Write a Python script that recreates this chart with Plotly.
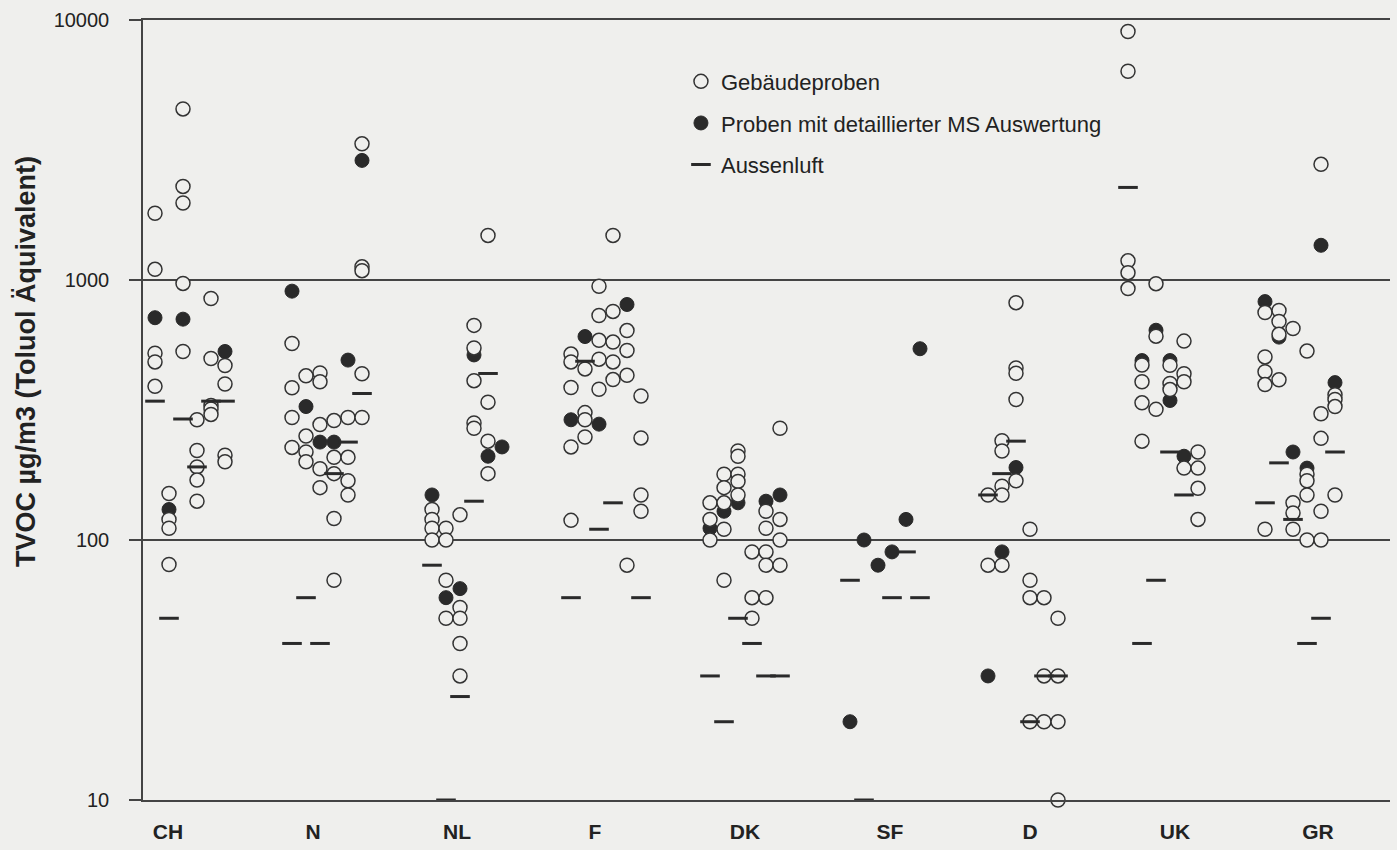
import plotly.graph_objects as go

# ---------------- data (column slot within country group, TVOC value) ----------------
COUNTRIES = ["CH", "N", "NL", "F", "DK", "SF", "D", "UK", "GR"]
Y_TICKS = [10, 100, 1000, 10000]
Y_TICKTEXT = ["10", "100", "1000", "10000"]

# Gebäudeproben (open circles)
CH_geb = [(0, 1806), (0, 1099), (0, 523), (0, 484), (0, 390),
          (1, 151), (1, 120), (1, 111), (1, 80.5),
          (2, 4550), (2, 2290), (2, 1977), (2, 970), (2, 531),
          (3, 290), (3, 221), (3, 191), (3, 170), (3, 141),
          (4, 849), (4, 499), (4, 329), (4, 319), (4, 304),
          (5, 469), (5, 398), (5, 212), (5, 200)]
N_geb = [(0, 570), (0, 385), (0, 296), (0, 227),
         (1, 428), (1, 251), (1, 218), (1, 200),
         (2, 439), (2, 406), (2, 278), (2, 188), (2, 159),
         (3, 288), (3, 208), (3, 180), (3, 121), (3, 70),
         (4, 296), (4, 208), (4, 169), (4, 149),
         (5, 3340), (5, 1124), (5, 1086), (5, 436), (5, 296)]
NL_geb = [(0, 131), (0, 120), (0, 111), (0, 100),
          (1, 111), (1, 100), (1, 70), (1, 50),
          (2, 125), (2, 55), (2, 50), (2, 40), (2, 30),
          (3, 669), (3, 548), (3, 410), (3, 282), (3, 269),
          (4, 1484), (4, 339), (4, 240), (4, 180)]
F_geb = [(0, 519), (0, 484), (0, 386), (0, 228), (0, 119),
         (1, 455), (1, 309), (1, 290), (1, 249),
         (2, 946), (2, 730), (2, 586), (2, 496), (2, 380),
         (3, 1484), (3, 757), (3, 577), (3, 484), (3, 414),
         (4, 639), (4, 536), (4, 430), (4, 80),
         (5, 358), (5, 247), (5, 149), (5, 129)]
DK_geb = [(0, 139), (0, 120), (0, 100),
          (1, 179), (1, 159), (1, 139), (1, 110), (1, 70),
          (2, 220), (2, 210), (2, 179), (2, 168), (2, 149),
          (3, 90), (3, 60), (3, 50),
          (4, 129), (4, 111), (4, 90), (4, 80), (4, 60),
          (5, 269), (5, 120), (5, 100), (5, 80)]
SF_geb = []
D_geb = [(0, 149), (0, 80),
         (1, 241), (1, 220), (1, 161), (1, 149), (1, 80),
         (2, 818), (2, 459), (2, 438), (2, 347), (2, 169),
         (3, 110), (3, 70), (3, 60), (3, 20),
         (4, 60), (4, 30), (4, 20),
         (5, 50), (5, 30), (5, 20), (5, 10)]
UK_geb = [(0, 9030), (0, 6350), (0, 1185), (0, 1067), (0, 927),
          (1, 471), (1, 406), (1, 337), (1, 240),
          (2, 968), (2, 608), (2, 318),
          (3, 470), (3, 400), (3, 379),
          (4, 582), (4, 436), (4, 406), (4, 189),
          (5, 218), (5, 189), (5, 158), (5, 120)]
GR_geb = [(0, 750), (0, 506), (0, 444), (0, 396), (0, 110),
          (1, 764), (1, 693), (1, 618), (1, 413),
          (2, 651), (2, 139), (2, 127), (2, 110),
          (3, 533), (3, 179), (3, 169), (3, 149), (3, 100),
          (4, 2785), (4, 306), (4, 246), (4, 129), (4, 100),
          (5, 362), (5, 347), (5, 326), (5, 149)]

# Proben mit detaillierter MS Auswertung (filled circles)
CH_ms = [(0, 716), (1, 131), (2, 707), (5, 531)]
N_ms = [(0, 906), (1, 326), (2, 238), (3, 238), (4, 492), (5, 2884)]
NL_ms = [(0, 149), (1, 60), (2, 65), (3, 515), (4, 210), (5, 228)]
F_ms = [(0, 290), (1, 606), (2, 279), (4, 805)]
DK_ms = [(0, 111), (1, 129), (2, 139), (4, 141), (5, 149)]
SF_ms = [(0, 20), (1, 100), (2, 80), (3, 90), (4, 120), (5, 544)]
D_ms = [(0, 30), (1, 90), (2, 190)]
UK_ms = [(1, 490), (2, 641), (3, 490), (3, 344), (4, 210)]
GR_ms = [(0, 826), (1, 603), (2, 218), (3, 189), (4, 1360), (5, 403)]

# Aussenluft (dashes)
CH_aus = [(0, 342), (1, 50), (2, 292), (3, 191), (4, 342), (5, 342)]
N_aus = [(0, 40), (1, 60), (2, 40), (3, 180), (4, 238), (5, 366)]
NL_aus = [(0, 80), (1, 10), (2, 25), (3, 141), (4, 437)]
F_aus = [(0, 60), (1, 487), (2, 110), (3, 139), (5, 60)]
DK_aus = [(0, 30), (1, 20), (2, 50), (3, 40), (4, 30), (5, 30)]
SF_aus = [(0, 70), (1, 10), (3, 60), (4, 90), (5, 60)]
D_aus = [(0, 149), (1, 180), (2, 240), (3, 20), (4, 30), (5, 30)]
UK_aus = [(0, 2270), (1, 40), (2, 70), (3, 218), (4, 149)]
GR_aus = [(0, 139), (1, 198), (2, 120), (3, 40), (4, 50), (5, 218)]

GEB = [CH_geb, N_geb, NL_geb, F_geb, DK_geb, SF_geb, D_geb, UK_geb, GR_geb]
MS = [CH_ms, N_ms, NL_ms, F_ms, DK_ms, SF_ms, D_ms, UK_ms, GR_ms]
AUS = [CH_aus, N_aus, NL_aus, F_aus, DK_aus, SF_aus, D_aus, UK_aus, GR_aus]

# ---------------- layout constants ----------------
GROUP_START = [155, 292, 432, 571, 710, 850, 988, 1128, 1265]
LABEL_POS = [168, 313, 457, 595, 745, 890, 1030, 1175, 1318]
COL_STEP = 14
BG = "#efefed"
INK = "#2a2a2a"
FONT = "Liberation Sans, Arial, Helvetica, sans-serif"


def flatten(groups):
    xs, ys = [], []
    for i, pts in enumerate(groups):
        for col, val in pts:
            xs.append(GROUP_START[i] + col * COL_STEP)
            ys.append(val)
    return xs, ys


fig = go.Figure()

x, y = flatten(MS)
fig.add_trace(go.Scatter(
    x=x, y=y, mode="markers", name="Proben mit detaillierter MS Auswertung",
    legendrank=2, legendgroup="b", cliponaxis=False,
    marker=dict(symbol="circle", size=14, color=INK, line=dict(color=INK, width=1))))

x, y = flatten(GEB)
fig.add_trace(go.Scatter(
    x=x, y=y, mode="markers", name="Gebäudeproben",
    legendrank=1, legendgroup="a", cliponaxis=False,
    marker=dict(symbol="circle", size=14, color=BG, line=dict(color="#333333", width=1.5))))

x, y = flatten(AUS)
fig.add_trace(go.Scatter(
    x=x, y=y, mode="markers", name="Aussenluft",
    legendrank=3, legendgroup="c", cliponaxis=False,
    marker=dict(symbol="line-ew", size=14, color=INK, line=dict(color=INK, width=3))))

fig.update_layout(
    width=1397, height=850,
    margin=dict(l=143, r=7, t=20, b=43),
    paper_bgcolor=BG, plot_bgcolor=BG,
    font=dict(family=FONT, color="#222222", size=20),
    showlegend=True,
    legend=dict(x=0.4314, y=0.948, xanchor="left", yanchor="top",
                bgcolor="rgba(0,0,0,0)", font=dict(size=22, color="#222222"),
                tracegroupgap=10, itemsizing="trace"),
    xaxis=dict(range=[143, 1390], tickvals=LABEL_POS, ticktext=COUNTRIES,
               showgrid=False, zeroline=False, showline=True, mirror=True,
               linecolor="#444444", linewidth=1.5, ticks="",
               tickfont=dict(size=21, weight="bold"), ticklabelstandoff=12),
    yaxis=dict(type="log", range=[1, 4], tickvals=Y_TICKS, ticktext=Y_TICKTEXT,
               showgrid=True, gridcolor="#444444", gridwidth=1.5,
               zeroline=False, showline=True, linecolor="#444444", linewidth=1.5,
               ticks="outside", ticklen=12, tickwidth=1.5, tickcolor="#444444",
               tickfont=dict(size=20), ticklabelstandoff=16),
    annotations=[dict(text="<b>TVOC µg/m3 (Toluol Äquivalent)</b>",
                      xref="paper", yref="paper", x=-0.0938, y=0.5616,
                      xanchor="center", yanchor="middle", textangle=-90,
                      showarrow=False, font=dict(size=27, color="#222222"))],
)

fig.write_html("out.html", config={"displayModeBar": False},
               post_script="document.body.style.margin='0';")
